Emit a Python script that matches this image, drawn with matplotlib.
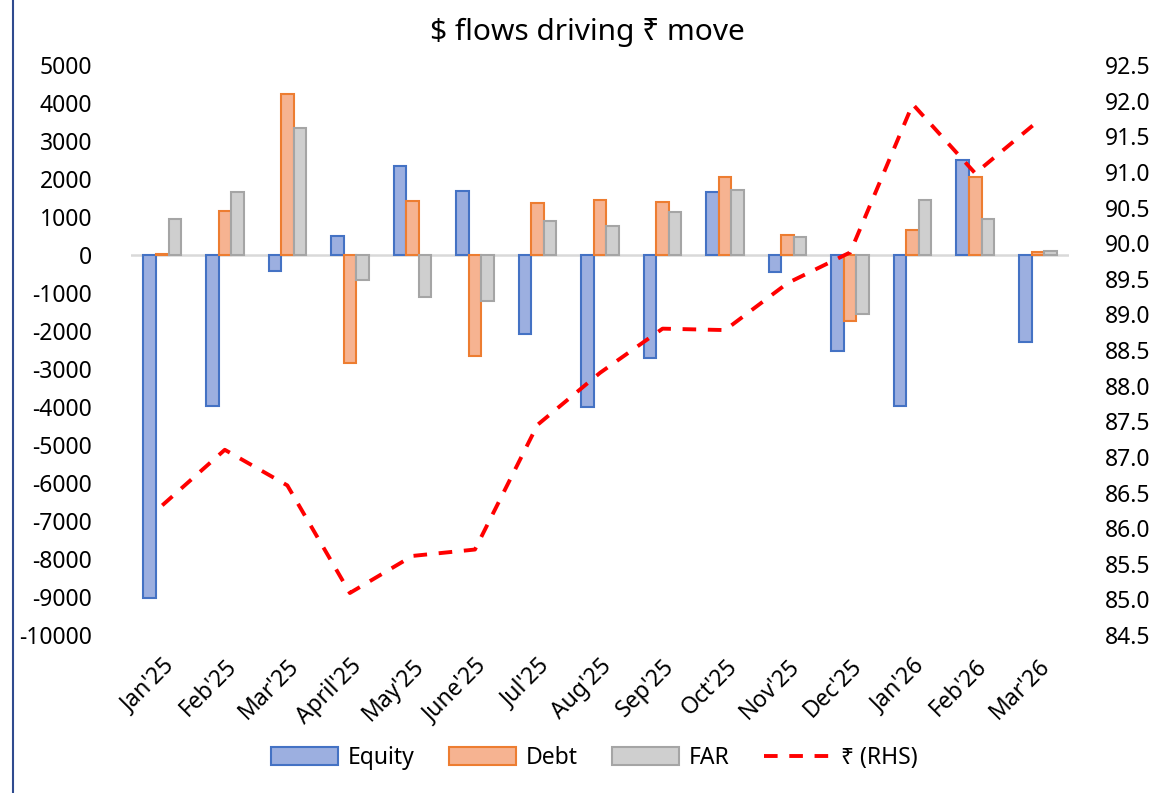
import matplotlib
matplotlib.use("Agg")
import matplotlib.pyplot as plt
import numpy as np
from matplotlib.lines import Line2D

plt.rcParams['font.family'] = ['Noto Sans', 'DejaVu Sans']
plt.rcParams['axes.unicode_minus'] = False

months = ["Jan'25", "Feb'25", "Mar'25", "April'25", "May'25", "June'25", "Jul'25",
          "Aug'25", "Sep'25", "Oct'25", "Nov'25", "Dec'25", "Jan'26", "Feb'26", "Mar'26"]
equity = [-9030, -3960, -415, 505, 2340, 1680, -2075, -3990, -2715, 1650, -435, -2520, -3960, 2495, -2300]
debt = [40, 1170, 4230, -2850, 1415, -2645, 1375, 1440, 1390, 2055, 530, -1725, 650, 2065, 85]
far = [940, 1650, 3340, -645, -1110, -1200, 900, 770, 1125, 1715, 470, -1560, 1460, 940, 100]
inr = [86.32, 87.10, 86.60, 85.09, 85.61, 85.70, 87.45, 88.18, 88.80, 88.78, 89.44, 89.87, 91.95, 90.98, 91.71]

x = np.arange(len(months))
w = 0.2

fig = plt.figure(figsize=(11.52, 7.93), dpi=100)
ax = fig.add_axes([0.1137, 0.1992, 0.8143, 0.7188])

ax.bar(x - w, equity, w, color='#9cafe0', edgecolor='#4472c4', linewidth=1.5, label='Equity', zorder=2)
ax.bar(x, debt, w, color='#f6b391', edgecolor='#ed7d31', linewidth=1.5, label='Debt', zorder=2)
ax.bar(x + w, far, w, color='#cfcfcf', edgecolor='#a5a5a5', linewidth=1.5, label='FAR', zorder=2)
ax.axhline(0, color='#d9d9d9', linewidth=1.8, zorder=1)

ax.set_xlim(-0.5, len(months) - 0.5)
ax.set_ylim(-10000, 5000)
ax.set_yticks(np.arange(-10000, 5001, 1000))
ax.set_xticks(x)
ax.set_xticklabels(months, rotation=45, ha='right', rotation_mode='anchor')
ax.tick_params(axis='y', length=0, labelsize=16.5, pad=28)
ax.tick_params(axis='x', length=0, labelsize=16.5, pad=14)
for s in ax.spines.values():
    s.set_visible(False)

ax2 = ax.twinx()
ax2.plot(x, inr, color='#ff0000', linestyle=(0, (3.5, 3)), linewidth=2.8, label='₹ (RHS)', zorder=3)
ax2.set_ylim(84.5, 92.5)
ax2.set_yticks(np.arange(84.5, 92.51, 0.5))
ax2.set_yticklabels([f"{v:.1f}" for v in np.arange(84.5, 92.51, 0.5)])
ax2.tick_params(axis='y', length=0, labelsize=16.5, pad=26)
for s in ax2.spines.values():
    s.set_visible(False)

fig.suptitle('$ flows driving ₹ move', x=0.51, y=0.977, fontsize=21.5)

h1, l1 = ax.get_legend_handles_labels()
h2, l2 = ax2.get_legend_handles_labels()
fig.legend(h1 + h2, l1 + l2, loc='center', bbox_to_anchor=(0.516, 0.044), ncol=4,
           frameon=False, fontsize=16.5, handlelength=2.9, handleheight=0.8,
           handletextpad=0.45, columnspacing=1.5)

fig.add_artist(Line2D([0.011, 0.011], [0, 1], color='#2f4b8f', linewidth=1.5))

fig.savefig('out.png', dpi=100)
